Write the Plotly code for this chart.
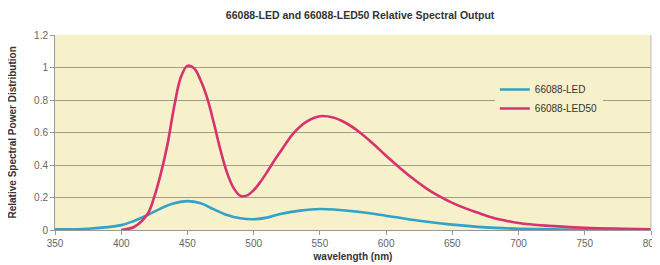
import plotly.graph_objects as go

wl_led50 = [400, 410, 420, 425, 430, 435, 440, 445, 450, 455, 460, 465, 470, 475, 480, 485, 490, 495, 500, 505, 510, 515, 520, 530, 540, 550, 560, 570, 580, 590, 600, 610, 620, 630, 640, 650, 660, 670, 680, 690, 700, 720, 750, 780, 800]
led50 = [0.0, 0.02, 0.10, 0.205, 0.35, 0.53, 0.76, 0.94, 1.01, 0.995, 0.92, 0.81, 0.656, 0.49, 0.35, 0.256, 0.21, 0.213, 0.245, 0.295, 0.355, 0.42, 0.48, 0.595, 0.667, 0.70, 0.692, 0.657, 0.602, 0.532, 0.457, 0.385, 0.318, 0.258, 0.208, 0.167, 0.133, 0.104, 0.077, 0.058, 0.043, 0.027, 0.014, 0.008, 0.005]

wl_led = [350, 375, 400, 410, 420, 430, 440, 450, 460, 470, 480, 490, 500, 510, 520, 535, 550, 575, 600, 625, 650, 675, 700, 725, 750, 800]
led = [0.005, 0.008, 0.03, 0.057, 0.092, 0.133, 0.164, 0.178, 0.164, 0.127, 0.092, 0.072, 0.066, 0.076, 0.098, 0.119, 0.129, 0.115, 0.088, 0.057, 0.033, 0.016, 0.008, 0.004, 0.002, 0.001]

x_ticks = [350, 400, 450, 500, 550, 600, 650, 700, 750, 800]
y_ticks = [0, 0.2, 0.4, 0.6, 0.8, 1, 1.2]
y_tick_labels = ["0", "0.2", "0.4", "0.6", "0.8", "1", "1.2"]

FONT = "Liberation Sans, Arial, sans-serif"

fig = go.Figure()
fig.add_trace(go.Scatter(x=wl_led, y=led, mode="lines", name="66088-LED",
                         line=dict(color="#2FA3C8", width=2.6, shape="spline", smoothing=1.0)))
fig.add_trace(go.Scatter(x=wl_led50, y=led50, mode="lines", name="66088-LED50",
                         line=dict(color="#D6336F", width=2.6, shape="spline", smoothing=1.0)))

# page body has an 8px margin, so the figure is sized/offset to compensate
fig.update_layout(
    width=652, height=257,
    margin=dict(l=47, r=9, t=27, b=35),
    paper_bgcolor="white",
    plot_bgcolor="#F6F0CB",
    font=dict(family=FONT, size=10, color="#666666"),
    title=dict(text="<b>66088-LED and 66088-LED50 Relative Spectral Output</b>",
               x=0.54, xanchor="center", y=0.972, yanchor="middle",
               font=dict(family=FONT, size=10.5, color="#333333")),
    legend=dict(x=0.738, y=0.795, xanchor="left", yanchor="top",
                bgcolor="#F6F0CB", borderwidth=0,
                font=dict(family=FONT, size=10, color="#333333"),
                itemwidth=30, tracegroupgap=2),
    xaxis=dict(range=[350, 800], tickvals=x_ticks, ticks="outside", ticklen=4,
               tickcolor="#999999", showgrid=False, zeroline=False, automargin=False,
               showline=True, linecolor="#999999", linewidth=1, mirror=False,
               title=dict(text="<b>wavelength (nm)</b>", standoff=4,
                          font=dict(family=FONT, size=10, color="#333333"))),
    yaxis=dict(range=[0, 1.2], tickvals=y_ticks, ticktext=y_tick_labels,
               ticks="outside", ticklen=4, tickcolor="#999999", automargin=False,
               showgrid=True, gridcolor="#A39D85", gridwidth=1, zeroline=False,
               showline=True, linecolor="#999999", linewidth=1),
    annotations=[dict(text="<b>Relative Spectral Power Distribution</b>",
                      xref="paper", yref="paper", x=-43 / 596, y=0.5,
                      xanchor="center", yanchor="middle", textangle=-90,
                      showarrow=False, font=dict(family=FONT, size=10, color="#333333"))],
    shapes=[dict(type="line", xref="paper", yref="paper", x0=1, x1=1, y0=0, y1=1,
                 line=dict(color="#BBBBBB", width=1))],
)

fig.write_html("out.html")
